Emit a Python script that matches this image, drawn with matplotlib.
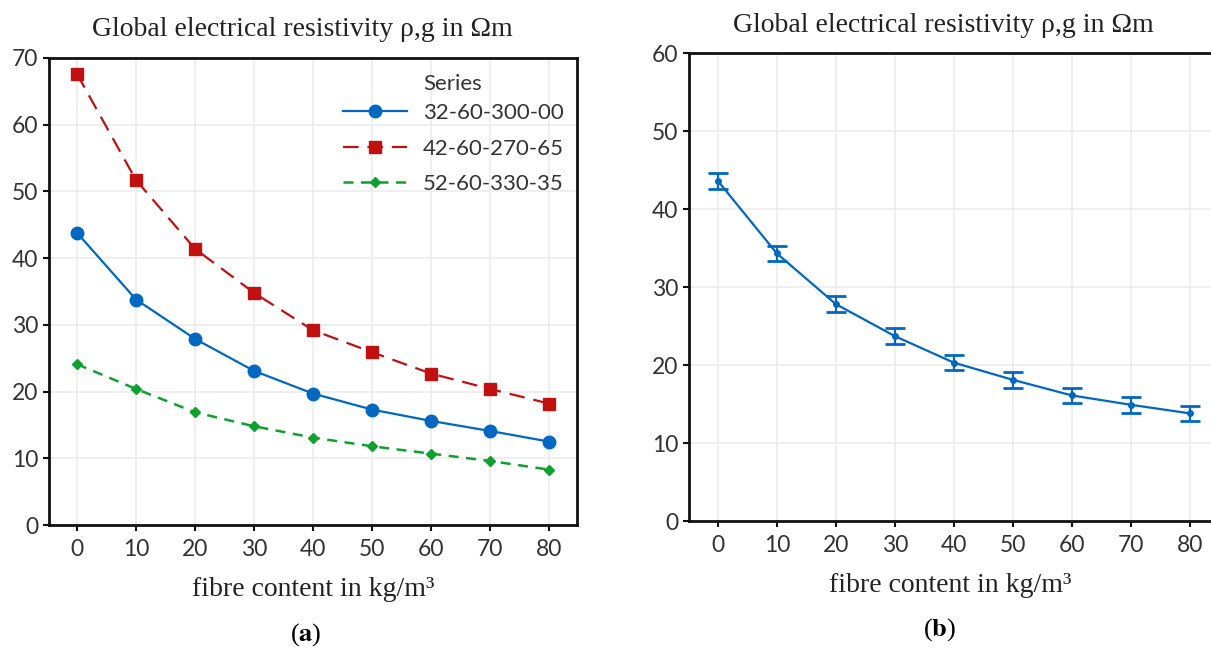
import numpy as np
import matplotlib
matplotlib.use("Agg")
import matplotlib.pyplot as plt

plt.rcParams["mathtext.fontset"] = "stix"

fibre = [0, 10, 20, 30, 40, 50, 60, 70, 80]
s32 = [43.8, 33.8, 27.9, 23.1, 19.7, 17.3, 15.6, 14.1, 12.5]
s42 = [67.6, 51.7, 41.4, 34.8, 29.2, 25.9, 22.7, 20.4, 18.2]
s52 = [24.1, 20.4, 16.9, 14.8, 13.1, 11.8, 10.7, 9.6, 8.3]
series_names = ["32-60-300-00", "42-60-270-65", "52-60-330-35"]

mean_b = [43.6, 34.3, 27.8, 23.7, 20.3, 18.1, 16.1, 14.9, 13.8]
err_b = [1.0, 1.0, 1.0, 1.0, 1.0, 1.0, 1.0, 1.0, 1.0]

title = "Global electrical resistivity \u03c1,g in \u03a9m"
xlab = "fibre content in kg/m\u00b3"

serif = "Liberation Serif"
sans = "Lato"
tick_col = "#333333"
blue = "#0068c0"
red = "#c01010"
green = "#10a030"

W, H = 1211, 654
fig = plt.figure(figsize=(W / 100, H / 100), dpi=100)
ax1 = fig.add_axes([49 / W, 1 - 525 / H, 528 / W, 467 / H])
ax2 = fig.add_axes([689 / W, 1 - 521 / H, 522 / W, 468 / H])


def style(ax, ymax, xl):
    ax.set_xlim(xl)
    ax.set_ylim(0, ymax)
    ax.set_xticks(fibre)
    ax.set_yticks(range(0, ymax + 1, 10))
    ax.grid(True, color="#ececec", linewidth=1.2)
    ax.set_axisbelow(True)
    for s in ax.spines.values():
        s.set_linewidth(2)
        s.set_color("#111111")
    ax.tick_params(labelsize=16.5, labelcolor=tick_col, length=4, width=1.5,
                   color="#111111")
    ax.tick_params(axis="x", pad=6)
    for lab in ax.get_xticklabels() + ax.get_yticklabels():
        lab.set_fontfamily(sans)
    ax.set_xlabel(xlab, fontfamily=serif, fontsize=20, color="#222222", labelpad=12)


# (a)
ax1.plot(fibre, s32, color=blue, marker="o", markersize=9, linewidth=1.6,
         label=series_names[0])
ax1.plot(fibre, s42, color=red, marker="s", markersize=8, linewidth=1.6,
         dashes=(7, 4), label=series_names[1])
ax1.plot(fibre, s52, color=green, marker="D", markersize=5.5, linewidth=1.8,
         dashes=(4, 3), label=series_names[2])
style(ax1, 70, (-4.75, 84.75))
leg = ax1.legend(loc="upper left", bbox_to_anchor=(343 / W, 1 - 103 / H),
                 bbox_transform=fig.transFigure, frameon=False,
                 prop={"family": sans, "size": 16}, borderpad=0,
                 borderaxespad=0, handlelength=2.9, handletextpad=0.68,
                 labelspacing=0.7)
for t in leg.get_texts():
    t.set_color(tick_col)
fig.text(423 / W, 1 - 84 / H, "Series", fontfamily=sans, fontsize=16,
         color=tick_col, va="center")

# (b)
ax2.errorbar(fibre, mean_b, yerr=err_b, color=blue, marker="o", markersize=4,
             linewidth=1.6, capsize=7, capthick=2, elinewidth=1.6)
style(ax2, 60, (-4.9, 83.6))
ax2.spines["right"].set_visible(False)

fig.text(302 / W, 1 - 30 / H, title, fontfamily=serif, fontsize=20,
         color="#222222", ha="center", va="center")
fig.text(943 / W, 1 - 25 / H, title, fontfamily=serif, fontsize=20,
         color="#222222", ha="center", va="center")

fig.text(306 / W, 1 - 635 / H, r"($\mathbf{a}$)", fontfamily=serif, fontsize=19,
         ha="center", va="center")
fig.text(940 / W, 1 - 630 / H, r"($\mathbf{b}$)", fontfamily=serif, fontsize=19,
         ha="center", va="center")

fig.savefig("out.png", dpi=100)
